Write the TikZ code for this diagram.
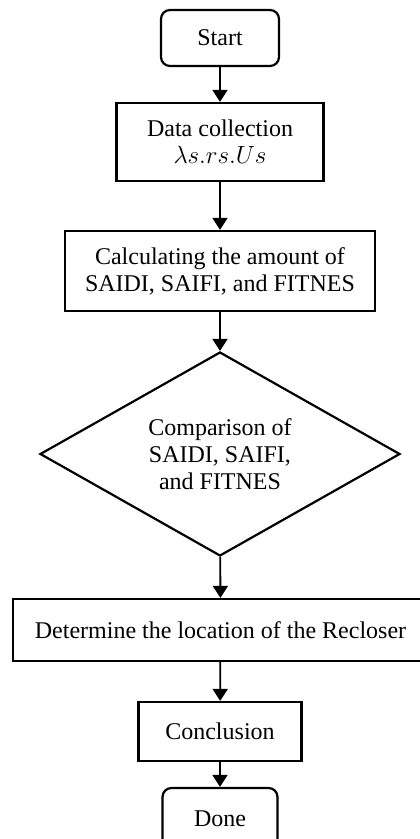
\documentclass[tikz,border=0pt]{standalone}
\usepackage{fontspec}
\setmainfont{Liberation Serif}
\usetikzlibrary{arrows.meta,shapes.geometric}

\begin{document}
\begin{tikzpicture}[x=1pt,y=-1pt,
  box/.style={draw=black, line width=2.2pt, align=center, inner sep=0pt, font=\fontsize{24}{27}\selectfont},
  term/.style={box, rounded corners=9pt},
  flow/.style={black, line width=1.8pt, -{Triangle[length=12pt, width=15pt]}}]
\useasboundingbox (0,0) rectangle (420,839);
\node[term, minimum width=118pt, minimum height=56pt] (start) at (220,38) {Start};
\node[box, minimum width=207pt, minimum height=78pt] (data) at (220,142) {Data collection\\$\lambda s.rs.Us$};
\node[box, minimum width=310pt, minimum height=80pt] (calc) at (220,271) {Calculating the amount of\\SAIDI, SAIFI, and FITNES};
\node[box, shape=diamond, aspect=1.76, minimum width=360pt, minimum height=204pt] (cmp) at (220,454) {Comparison of\\SAIDI, SAIFI,\\and FITNES};
\node[box, minimum width=415pt, minimum height=62pt] (det) at (220.5,630) {Determine the location of the Recloser};
\node[box, minimum width=163pt, minimum height=59pt] (concl) at (220,731.5) {Conclusion};
\node[term, minimum width=115pt, minimum height=62pt] (done) at (220,819) {Done};
\draw[flow] (start) -- (data);
\draw[flow] (data) -- (calc);
\draw[flow] (calc) -- (cmp);
\draw[flow] (cmp) -- (det);
\draw[flow] (det) -- (concl);
\draw[flow] (concl) -- (done);
\end{tikzpicture}
\end{document}
